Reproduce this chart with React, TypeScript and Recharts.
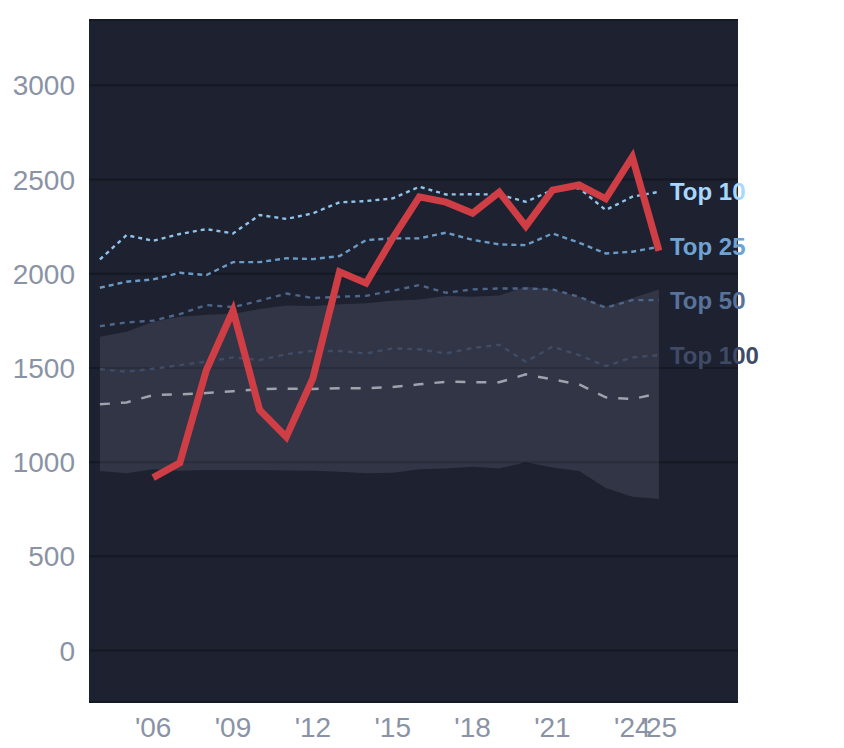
import React from "react";
import { ComposedChart, Line, Area, XAxis, YAxis, CartesianGrid, LabelList } from "recharts";

const years = [2004, 2005, 2006, 2007, 2008, 2009, 2010, 2011, 2012, 2013, 2014, 2015, 2016, 2017, 2018, 2019, 2020, 2021, 2022, 2023, 2024, 2025];
const top10 = [2076, 2205, 2175, 2211, 2237, 2214, 2312, 2291, 2321, 2379, 2386, 2400, 2462, 2421, 2422, 2421, 2382, 2444, 2455, 2338, 2409, 2435];
const top25 = [1926, 1958, 1970, 2005, 1993, 2062, 2062, 2082, 2078, 2094, 2179, 2188, 2188, 2218, 2180, 2156, 2152, 2214, 2165, 2108, 2117, 2143];
const top50 = [1722, 1742, 1751, 1786, 1834, 1823, 1857, 1895, 1871, 1878, 1883, 1910, 1940, 1899, 1917, 1922, 1922, 1917, 1878, 1820, 1860, 1860];
const top100 = [1494, 1480, 1496, 1515, 1533, 1556, 1542, 1573, 1591, 1590, 1577, 1604, 1599, 1577, 1606, 1623, 1533, 1613, 1568, 1510, 1556, 1568];
const median = [1307, 1317, 1356, 1360, 1367, 1377, 1388, 1390, 1389, 1392, 1392, 1399, 1413, 1427, 1425, 1424, 1466, 1439, 1413, 1344, 1335, 1365];
const bandHigh = [1666, 1692, 1745, 1772, 1782, 1788, 1813, 1831, 1829, 1838, 1843, 1857, 1864, 1882, 1878, 1885, 1931, 1917, 1878, 1825, 1871, 1917];
const bandLow = [953, 941, 962, 954, 958, 958, 958, 956, 954, 949, 941, 944, 962, 967, 976, 967, 999, 972, 953, 863, 816, 805];
const team = [null, null, 918, 996, 1489, 1805, 1277, 1134, 1445, 2010, 1950, 2190, 2408, 2380, 2321, 2433, 2253, 2444, 2471, 2398, 2620, 2122];

const yTicks = [0, 500, 1000, 1500, 2000, 2500, 3000];
const xTicks = [2006, 2009, 2012, 2015, 2018, 2021, 2024, 2025];

const data = years.map((y, i) => ({
  year: y,
  top10: top10[i],
  top25: top25[i],
  top50: top50[i],
  top100: top100[i],
  median: median[i],
  band: [bandLow[i], bandHigh[i]],
  team: team[i],
}));

const last = years.length - 1;
const FONT = "'Liberation Sans', Arial, sans-serif";

const endLabel = (text: string, color: string) => (props: any) => {
  const { x, y, index } = props;
  if (index !== last) return <g />;
  return (
    <text
      x={Number(x) + 11}
      y={Number(y)}
      dy="0.35em"
      fill={color}
      fontSize={24}
      fontWeight="bold"
      fontFamily={FONT}
      textAnchor="start"
    >
      {text}
    </text>
  );
};

export default function App() {
  return (
    <div style={{ width: 836, height: 740 }}>
      <ComposedChart
        width={836}
        height={740}
        data={data}
        margin={{ top: 12, right: 106, bottom: 0, left: 0 }}
      >
        <CartesianGrid
          horizontal={true}
          vertical={false}
          fill="#1d2130"
          stroke="#151923"
          strokeWidth={2}
        />
        <XAxis
          dataKey="year"
          type="number"
          domain={[2003.59, 2027.97]}
          allowDataOverflow
          ticks={xTicks}
          interval={0}
          tickFormatter={(v: number) => "'" + String(v).slice(2)}
          axisLine={false}
          tickLine={false}
          tickSize={0}
          tickMargin={15}
          height={46}
          tick={{ fill: "#8a93a5", fontSize: 28, fontFamily: FONT }}
        />
        <YAxis
          type="number"
          domain={[-273, 3347]}
          allowDataOverflow
          ticks={yTicks}
          interval={0}
          axisLine={false}
          tickLine={false}
          tickSize={0}
          tickMargin={14}
          width={81}
          tick={{ fill: "#8a93a5", fontSize: 28, fontFamily: FONT }}
        />
        <Area
          dataKey="band"
          type="linear"
          fill="#c0c8e0"
          fillOpacity={0.127}
          stroke="none"
          isAnimationActive={false}
        />
        <Line
          dataKey="median"
          type="linear"
          stroke="#9ea3ad"
          strokeWidth={2.5}
          strokeDasharray="10 11"
          dot={false}
          isAnimationActive={false}
        />
        <Line
          dataKey="top100"
          type="linear"
          stroke="#3f4c66"
          strokeWidth={2.4}
          strokeDasharray="5 5"
          dot={false}
          isAnimationActive={false}
        >
          <LabelList dataKey="top100" content={endLabel("Top 100", "#3f4b66")} />
        </Line>
        <Line
          dataKey="top50"
          type="linear"
          stroke="#4e6789"
          strokeWidth={2.4}
          strokeDasharray="5 5"
          dot={false}
          isAnimationActive={false}
        >
          <LabelList dataKey="top50" content={endLabel("Top 50", "#58739a")} />
        </Line>
        <Line
          dataKey="top25"
          type="linear"
          stroke="#6a9bc6"
          strokeWidth={2.4}
          strokeDasharray="5 4"
          dot={false}
          isAnimationActive={false}
        >
          <LabelList dataKey="top25" content={endLabel("Top 25", "#6fa3d3")} />
        </Line>
        <Line
          dataKey="top10"
          type="linear"
          stroke="#90c4ea"
          strokeWidth={2.4}
          strokeDasharray="4 4"
          dot={false}
          isAnimationActive={false}
        >
          <LabelList dataKey="top10" content={endLabel("Top 10", "#a8d8ff")} />
        </Line>
        <Line
          dataKey="team"
          type="linear"
          stroke="#d03e45"
          strokeWidth={7}
          dot={false}
          connectNulls={false}
          isAnimationActive={false}
        />
      </ComposedChart>
    </div>
  );
}
